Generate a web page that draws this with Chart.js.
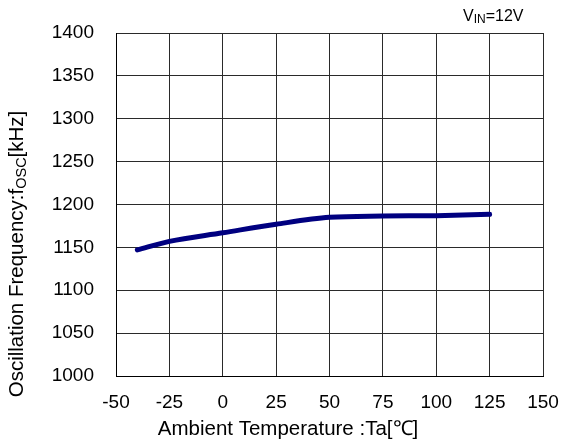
<!DOCTYPE html>
<html>
<head>
<meta charset="utf-8">
<script src="https://cdn.jsdelivr.net/npm/chart.js@4/dist/chart.umd.min.js"></script>
<style>
  html, body { margin: 0; padding: 0; background: #fff; }
  #wrap { width: 562px; height: 444px; }
</style>
</head>
<body>
<div id="wrap"><canvas id="oscChart" width="562" height="444"></canvas></div>
<script>
// Data
const temps = [-40, -25, 0, 25, 50, 75, 100, 125];
const freqs = [1147, 1157, 1167, 1177, 1185, 1186.5, 1187, 1188.5];

const xMin = -50, xMax = 150, xStep = 25;
const yMin = 1000, yMax = 1400, yStep = 50;

const FONT = 'Arial, "Liberation Sans", sans-serif';

// draws the axis titles and the V_IN note (they carry subscripts)
const labelsPlugin = {
  id: 'labels',
  afterDraw(chart) {
    const c = chart.ctx;
    c.save();
    c.fillStyle = '#000';
    c.textBaseline = 'alphabetic';

    // V_IN=12V
    c.font = '16px ' + FONT;
    let x = 463, y = 21;
    c.fillText('V', x, y);
    x += c.measureText('V').width;
    c.font = '12px ' + FONT;
    c.fillText('IN', x, y + 2);
    x += c.measureText('IN').width;
    c.font = '16px ' + FONT;
    c.fillText('=12V', x, y);

    // x title
    c.font = '20.5px ' + FONT;
    c.textAlign = 'center';
    c.fillText('Ambient Temperature :Ta[\u2103]', 288, 435);

    // y title, rotated, with subscript
    c.translate(23, 254);
    c.rotate(-Math.PI / 2);
    const parts = [
      { t: 'Oscillation Frequency:f', size: 20.5, dy: 0 },
      { t: 'OSC', size: 14.5, dy: 3 },
      { t: '[kHz]', size: 20.5, dy: 0 }
    ];
    let total = 0;
    parts.forEach(p => { c.font = p.size + 'px ' + FONT; total += c.measureText(p.t).width; });
    c.textAlign = 'left';
    let px = -total / 2;
    parts.forEach(p => {
      c.font = p.size + 'px ' + FONT;
      c.fillText(p.t, px, p.dy);
      px += c.measureText(p.t).width;
    });
    c.restore();
  }
};

new Chart(document.getElementById('oscChart'), {
  type: 'line',
  data: {
    datasets: [{
      data: temps.map((t, i) => ({ x: t, y: freqs[i] })),
      borderColor: '#000080',
      borderWidth: 5,
      borderCapStyle: 'round',
      cubicInterpolationMode: 'monotone',
      pointRadius: 0,
      fill: false
    }]
  },
  options: {
    responsive: false,
    animation: false,
    layout: { padding: { left: 0, right: 19, top: 33, bottom: 0 } },
    plugins: {
      legend: { display: false },
      tooltip: { enabled: false }
    },
    scales: {
      x: {
        type: 'linear',
        min: xMin,
        max: xMax,
        afterFit(scale) {
          scale.height = 68;
          scale.paddingLeft = 0;
          scale.paddingRight = 0;
        },
        grid: { color: '#2a2a2a', lineWidth: 1, drawTicks: false },
        border: { color: '#000', width: 1 },
        ticks: {
          stepSize: xStep,
          padding: 15,
          color: '#000',
          font: { family: FONT, size: 19 },
          maxRotation: 0,
          callback: v => String(v)
        }
      },
      y: {
        min: yMin,
        max: yMax,
        afterFit(scale) {
          scale.width = 116;
          scale.paddingTop = 0;
          scale.paddingBottom = 0;
        },
        grid: { color: '#2a2a2a', lineWidth: 1, drawTicks: false },
        border: { color: '#000', width: 1 },
        ticks: {
          stepSize: yStep,
          padding: 22,
          color: '#000',
          font: { family: FONT, size: 19 },
          callback: v => String(v)
        }
      }
    }
  },
  plugins: [labelsPlugin]
});
</script>
</body>
</html>
